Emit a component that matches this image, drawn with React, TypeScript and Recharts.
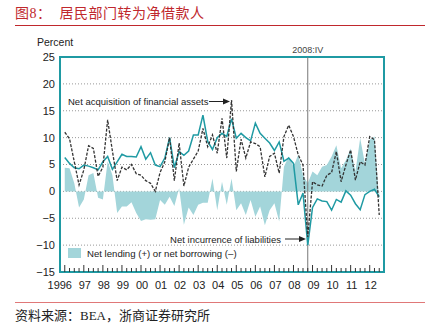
import React from 'react';
import {
  ComposedChart,
  Area,
  Line,
  XAxis,
  YAxis,
  CartesianGrid,
  ReferenceLine,
  ReferenceArea,
} from 'recharts';

// 年份（季度数据 1996Q1 - 2012Q3）
const years = [1996, 1997, 1998, 1999, 2000, 2001, 2002, 2003, 2004, 2005, 2006, 2007, 2008, 2009, 2010, 2011, 2012];
const quarterCount = 67;

// Net acquisition of financial assets（虚线）
const assets = [
  11.0, 9.8, 5.5, 1.2, 4.0, 8.5, 8.0, 2.8, 4.5, 13.3, 7.5, 2.0, 4.5, 4.0, 5.0, 3.3,
  3.0, 2.0, 1.5, 0.0, 3.5, 5.5, 10.0, 2.0, 9.0, 1.0, 4.5, 6.0, 7.5, 11.7, 8.3, 10.5,
  7.1, 13.6, 6.2, 17.0, 3.7, 9.7, 6.2, 9.2, 8.9, 8.3, 2.7, 6.5, 7.1, 3.4, 10.2, 12.3,
  10.2, 6.8, 4.9, -8.5, 1.8, 1.2, 1.0, 3.0, 3.5, 7.4, 1.8, 4.9, 7.7, 2.1, 5.5, 4.9,
  10.2, 9.6, -4.4,
];

// Net incurrence of liabilities（实线）
const liabilities = [
  6.3, 5.2, 4.4, 4.2, 4.9, 4.7, 4.4, 4.0, 5.5, 6.5, 4.1, 5.5, 6.9, 6.5, 6.5, 6.4,
  8.3, 6.0, 7.2, 4.9, 4.6, 6.2, 10.0, 4.4, 7.4, 6.7, 7.5, 10.5, 10.5, 14.2, 9.3, 7.8,
  10.0, 10.8, 10.2, 13.5, 9.9, 10.8, 10.0, 9.4, 12.7, 10.8, 9.9, 9.0, 7.6, 9.2, 5.6, 6.2,
  5.2, -2.5, -0.3, -10.0, -3.0, -1.4, -1.8, -1.9, -3.5, -1.5, -2.0, 0.1, -0.7, -2.3, -3.4, -0.6,
  0.0, 0.4, -1.0,
];

// Net lending (+) or net borrowing (–)（面积）
const lending = [
  4.4, 4.3, 1.5, -3.0, -1.5, 3.0, 3.4, -1.2, -1.5, 5.6, 3.0, -4.0, -2.8, -2.8, -2.0, -4.0,
  -5.5, -5.2, -5.3, -5.2, -1.6, -2.5, -1.0, -2.7, 0.6, -6.2, -3.0, -4.4, -2.5, -2.1, -2.1, 2.4,
  -3.5, 1.8, -2.5, 2.4, -3.5, -2.2, -4.4, -1.6, -4.7, -2.8, -6.3, -3.5, -2.2, -5.6, 4.6, 6.5,
  4.6, 6.8, 3.0, 1.5, 3.7, 3.0, 4.6, 4.9, 6.5, 8.6, 4.3, 5.8, 8.0, 3.7, 9.9, 5.2,
  9.6, 10.2, -2.0,
];

const yTicks = [-15, -10, -5, 0, 5, 10, 15, 20, 25];

const data = Array.from({ length: quarterCount }, (_, i) => ({
  t: years[Math.floor(i / 4)] + (i % 4) / 4,
  assets: assets[i],
  liabilities: liabilities[i],
  lending: lending[i],
}));
const xTicks = data.map((d) => d.t);

const TEAL = '#1f9aa3';
const FILL = '#a3d5da';
const RED = '#c0282d';
const SANS = '"Liberation Sans", Arial, sans-serif';
const SERIF = '"Liberation Serif", "Noto Sans CJK SC", serif';

const QuarterTick = (props: any) => {
  const { x, y, payload } = props;
  const v = payload.value;
  const isYear = Math.abs(v - Math.round(v)) < 1e-6;
  const yr = Math.round(v);
  const label = yr === 1996 ? '1996' : String(yr).slice(2);
  return (
    <g>
      <line x1={x} x2={x} y1={y} y2={y - (isYear ? 7 : 4)} stroke="#333" strokeWidth={1} />
      {isYear && (
        <text
          x={x + (yr === 1996 ? -5 : 1)}
          y={y + 17}
          textAnchor="middle"
          fontSize={11}
          fill="#222"
          fontFamily={SANS}
        >
          {label}
        </text>
      )}
    </g>
  );
};

export default function App() {
  return (
    <div
      style={{
        position: 'absolute',
        left: 0,
        top: 0,
        width: 428,
        height: 336,
        background: '#fff',
        overflow: 'hidden',
      }}
    >
      {/* 标题 */}
      <div
        style={{
          position: 'absolute',
          left: 15,
          top: 5,
          fontSize: 14,
          color: RED,
          fontFamily: SERIF,
          letterSpacing: 0.5,
          whiteSpace: 'pre',
          lineHeight: '18px',
        }}
      >
        {'图8：  居民部门转为净借款人'}
      </div>
      <div style={{ position: 'absolute', left: 15, top: 25, width: 410, height: 1, background: RED }} />

      <div style={{ position: 'absolute', left: 0, top: 0 }}>
        <ComposedChart
          width={428}
          height={336}
          data={data}
          margin={{ top: 57, right: 44, left: 10, bottom: 44 }}
        >
          <CartesianGrid vertical={false} stroke="#999" strokeDasharray="1 2" />
          <XAxis
            type="number"
            dataKey="t"
            domain={[1995.75, 2012.75]}
            ticks={xTicks}
            interval={0}
            axisLine={false}
            tickLine={false}
            tickSize={0}
            tickMargin={0}
            height={20}
            tick={<QuarterTick />}
            allowDataOverflow
          />
          <YAxis
            domain={[-15, 25]}
            ticks={yTicks}
            axisLine={false}
            tickLine={false}
            tickSize={0}
            tickMargin={5}
            width={50}
            tick={{ fontSize: 11, fill: '#222', fontFamily: SANS }}
            tickFormatter={(v: number) => (v < 0 ? '\u2212' + Math.abs(v) : String(v))}
          />
          <Area
            type="linear"
            dataKey="lending"
            baseValue={0}
            stroke="none"
            fill={FILL}
            fillOpacity={1}
            isAnimationActive={false}
          />
          <ReferenceLine
            x={2008.75}
            stroke="#777"
            strokeWidth={1}
            label={{ value: '2008:IV', position: 'top', fontSize: 9, fill: '#444', offset: 4, fontFamily: SANS }}
          />
          <Line
            type="linear"
            dataKey="liabilities"
            stroke={TEAL}
            strokeWidth={1.5}
            dot={false}
            isAnimationActive={false}
          />
          <Line
            type="linear"
            dataKey="assets"
            stroke="#333"
            strokeWidth={1.3}
            strokeDasharray="3 1.5"
            dot={false}
            isAnimationActive={false}
          />
          <ReferenceArea
            x1={1995.75}
            x2={2012.75}
            y1={-15}
            y2={25}
            fill="none"
            fillOpacity={0}
            stroke={TEAL}
            strokeWidth={2}
            ifOverflow="visible"
          />
        </ComposedChart>
      </div>

      {/* 注释与图例 */}
      <svg
        width={428}
        height={336}
        style={{ position: 'absolute', left: 0, top: 0, pointerEvents: 'none' }}
        fontFamily={SANS}
      >
        <text x={37} y={46} fontSize={10.5} fill="#222">Percent</text>
        <text x={68} y={105} fontSize={9.5} fill="#222">Net acquisition of financial assets</text>
        <line x1={209} x2={224} y1={101.5} y2={101.5} stroke="#222" strokeWidth={1} />
        <polygon points="223,98.5 230,101.5 223,104.5" fill="#222" />
        <text x={281} y={242.5} fontSize={9.5} fill="#222" textAnchor="end">Net incurrence of liabilities</text>
        <line x1={285} x2={300} y1={239} y2={239} stroke="#222" strokeWidth={1} />
        <polygon points="299,236 306,239 299,242" fill="#222" />
        <rect x={68} y={248} width={13} height={10} fill={FILL} />
        <text x={87} y={257} fontSize={9.6} fill="#222">Net lending (+) or net borrowing (–)</text>
      </svg>

      {/* 资料来源 */}
      <div style={{ position: 'absolute', left: 15, top: 302, width: 410, height: 1, background: '#e07878' }} />
      <div
        style={{
          position: 'absolute',
          left: 15,
          top: 307,
          fontSize: 13,
          color: '#222',
          fontFamily: SERIF,
          lineHeight: '17px',
          whiteSpace: 'pre',
        }}
      >
        资料来源：BEA，浙商证券研究所
      </div>
    </div>
  );
}
